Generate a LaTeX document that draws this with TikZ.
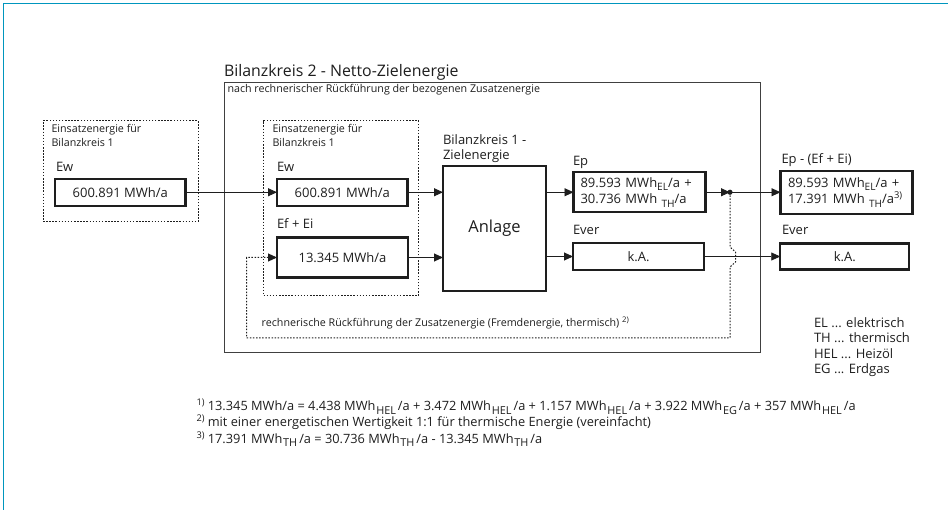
\documentclass[tikz,border=0pt]{standalone}
\usepackage{fontspec}
\usepackage{graphicx}
\setmainfont{Open Sans}
\usetikzlibrary{arrows.meta}
\definecolor{framec}{RGB}{0,150,190}
\definecolor{ink}{RGB}{30,30,30}
\newcommand{\lsub}[1]{\raisebox{-0.45ex}{\scalebox{0.78}{#1}}}
\newcommand{\fsub}[1]{\hspace{0.8pt}\raisebox{-0.5ex}{\scalebox{0.85}{#1}}\hspace{2pt}}
\newcommand{\lsup}[1]{\raisebox{0.75ex}{\scalebox{0.72}{#1}}}
\begin{document}
\begin{tikzpicture}[x=1pt,y=-1pt,
  every node/.style={inner sep=0pt, outer sep=0pt, text=ink},
  valbox/.style={draw=ink, line width=2.3pt, font=\fontsize{13}{16.5}\selectfont, align=center},
  dotbox/.style={draw=ink, line width=1pt, dash pattern=on 1.5pt off 1.6pt},
  lbl/.style={anchor=base west, font=\fontsize{13}{16}\selectfont},
  small/.style={anchor=base west, font=\fontsize{10.7}{12}\selectfont},
  legend/.style={anchor=base west, font=\fontsize{13}{15}\selectfont},
  foot/.style={anchor=base west, font=\fontsize{12.8}{15}\selectfont},
  arr/.style={draw=ink, line width=0.9pt, -{Triangle[length=9pt,width=8pt]}},
  dotline/.style={draw=ink, line width=1pt, dash pattern=on 1.5pt off 1.6pt}
]
\useasboundingbox (0,0) rectangle (948,510);
% frame
\draw[framec, line width=1.6pt] (3.5,510) -- (3.5,3.7) -- (948,3.7);

% left dotted box
\node[dotbox, minimum width=155pt, minimum height=101pt] (ez1) at (120.5,171.5) {};
\node[small] (ez1a) at (51.5,133) {Einsatzenergie für};
\node[small] (ez1b) at (51.5,146.5) {Bilanzkreis 1};
\node[lbl] (ew1l) at (56,172) {Ew};
\node[valbox, minimum width=130.5pt, minimum height=27pt] (ew1) at (120.25,192.25) {600.891 MWh/a};

% Bilanzkreis 2
\node[draw=ink!85, line width=1pt, minimum width=536pt, minimum height=270.5pt] (bk2) at (492.5,217.75) {};
\node[lbl, font=\fontsize{15.9}{18}\selectfont] (bk2t) at (224,76.5) {Bilanzkreis 2 - Netto-Zielenergie};
\node[small] (bk2s) at (227.5,92.5) {nach rechnerischer Rückführung der bezogenen Zusatzenergie};

% inner dotted box
\node[dotbox, minimum width=155pt, minimum height=175pt] (ez2) at (341,208.2) {};
\node[small] (ez2a) at (272.5,133) {Einsatzenergie für};
\node[small] (ez2b) at (272.5,146.5) {Bilanzkreis 1};
\node[lbl] (ew2l) at (277,172) {Ew};
\node[valbox, minimum width=130.5pt, minimum height=27pt] (ew2) at (342.25,192.25) {600.891 MWh/a};
\node[lbl] (fel) at (277,229) {Ef + Ei};
\node[valbox, minimum width=131pt, minimum height=40pt] (fe) at (342.5,257.5) {13.345 MWh/a};

% Anlage
\node[lbl] (bk1a) at (443,145) {Bilanzkreis 1 -};
\node[lbl] (bk1b) at (443,160) {Zielenergie};
\node[valbox, minimum width=103pt, minimum height=125pt, font=\fontsize{16.5}{19}\selectfont] (anl) at (494.5,228.5) {\raisebox{3pt}{Anlage}};

% Ep / Ever
\node[lbl] (epl) at (573,166) {Ep};
\node[valbox, minimum width=132pt, minimum height=40pt, text width=118pt, align=left] (ep) at (639.5,192.25) {89.593 MWh\lsub{EL}/a +\\30.736 MWh \lsub{TH}/a};
\node[lbl] (everl) at (573,235) {Ever};
\node[valbox, minimum width=131pt, minimum height=27pt] (ever) at (638.5,256.5) {k.A.};

% right side
\node[lbl] (eprl) at (781.5,163.5) {Ep - (Ef + Ei)};
\node[valbox, minimum width=132pt, minimum height=43pt, text width=117pt, align=left] (epr) at (846.5,192.25) {89.593 MWh\lsub{EL}/a +\\17.391 MWh \lsub{TH}/a\lsup{3)}};
\node[lbl] (everrl) at (782,235) {Ever};
\node[valbox, minimum width=129pt, minimum height=26pt] (everr) at (844.75,256.5) {k.A.};

% connectors
\draw[arr] (ew1) -- (ew2);
\draw[arr] (ew2.east) -- (ew2.east -| anl.west);
\draw[arr] (fe.east) -- (fe.east -| anl.west);
\draw[arr] (anl.east |- ep.west) -- (ep.west);
\draw[arr] (anl.east |- ever.west) -- (ever.west);
\coordinate (j) at (730,192.25);
\draw[arr] (ep.east) -- (j);
\draw[arr] (j) -- (epr.west);
\fill[ink] (j) circle (2.6pt);
\draw[arr] (ever.east) -- (everr.west);

% return path
\coordinate (h1) at (730,247);
\coordinate (h2) at (735.5,252);
\coordinate (h3) at (735.5,262);
\coordinate (h4) at (730,267);
\coordinate (rb) at (730,338);
\coordinate (lb) at (246.7,338);
\coordinate (lt) at (246.7,257.5);
\draw[dotline, -{Triangle[length=9pt,width=8pt]}] (j) -- (h1) -- (h2) -- (h3) -- (h4) -- (rb) -- (lb) -- (lt) -- (fe.west);
\node[small] (ret) at (261.7,326.5) {rechnerische Rückführung der Zusatzenergie (Fremdenergie, thermisch) \lsup{2)}};

% legend
\node[legend] (lg1) at (814,327.5) {EL ... elektrisch};
\node[legend] (lg2) at (814,343) {TH ... thermisch};
\node[legend] (lg3) at (814,358.5) {HEL ... Heizöl};
\node[legend] (lg4) at (814,374) {EG ... Erdgas};

% footnotes
\node[foot] (fn1) at (196.5,411) {\lsup{1)} 13.345 MWh/a = 4.438 MWh\fsub{HEL}/a + 3.472 MWh\fsub{HEL}/a + 1.157 MWh\fsub{HEL}/a + 3.922 MWh\fsub{EG}/a + 357 MWh\fsub{HEL}/a};
\node[foot] (fn2) at (196.5,427) {\lsup{2)} mit einer energetischen Wertigkeit 1:1 für thermische Energie (vereinfacht)};
\node[foot] (fn3) at (196.5,443.5) {\lsup{3)} 17.391 MWh\fsub{TH}/a = 30.736 MWh\fsub{TH}/a - 13.345 MWh\fsub{TH}/a};
\end{tikzpicture}
\end{document}
